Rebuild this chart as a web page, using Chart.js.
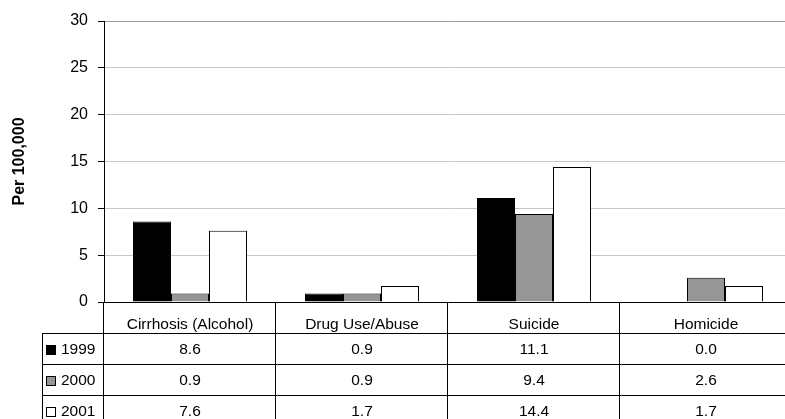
<!DOCTYPE html>
<html>
<head>
<meta charset="utf-8">
<script src="https://cdn.jsdelivr.net/npm/chart.js@4.4.1/dist/chart.umd.min.js"></script>
<style>
  html, body { margin: 0; padding: 0; background: #fff; overflow: hidden; }
  #wrap { width: 792px; height: 430px; }
</style>
</head>
<body>
<div id="wrap"><canvas id="c" width="792" height="430"></canvas></div>
<script>
const categories = ['Cirrhosis (Alcohol)', 'Drug Use/Abuse', 'Suicide', 'Homicide'];
const seriesNames = ['1999', '2000', '2001'];
const values1999 = [8.6, 0.9, 11.1, 0.0];
const values2000 = [0.9, 0.9, 9.4, 2.6];
const values2001 = [7.6, 1.7, 14.4, 1.7];
const yTicks = [0, 5, 10, 15, 20, 25, 30];
const yTitle = 'Per 100,000';

const fillColors = ['#000000', '#969696', '#ffffff'];
const allValues = [values1999, values2000, values2001];
const FONT = '"Liberation Sans", Arial, Helvetica, sans-serif';

const tablePlugin = {
  id: 'dataTable',
  afterDraw(chart) {
    const { ctx, chartArea, scales } = chart;
    const x = scales.x;
    const W = chart.width, H = chart.height;
    const rowH = 31;
    const top = Math.round(chartArea.bottom);
    const tableTop = top + rowH;
    const tableLeft = 42;
    const half = (x.getPixelForValue(1) - x.getPixelForValue(0)) / 2;
    ctx.save();
    ctx.strokeStyle = '#000';
    ctx.lineWidth = 1;
    ctx.beginPath();
    for (let k = 0; k < seriesNames.length; k++) {
      const y = tableTop + k * rowH + 0.5;
      ctx.moveTo(tableLeft, y); ctx.lineTo(W, y);
    }
    ctx.moveTo(tableLeft + 0.5, tableTop); ctx.lineTo(tableLeft + 0.5, H);
    ctx.moveTo(Math.round(chartArea.left) - 0.5, top); ctx.lineTo(Math.round(chartArea.left) - 0.5, H);
    for (let i = 0; i < categories.length; i++) {
      const xb = Math.round(x.getPixelForValue(i) + half) - 0.5;
      ctx.moveTo(xb, top); ctx.lineTo(xb, H);
    }
    ctx.stroke();

    ctx.font = '15.5px ' + FONT;
    ctx.fillStyle = '#000';
    ctx.textBaseline = 'middle';
    for (let s = 0; s < seriesNames.length; s++) {
      const yc = tableTop + s * rowH + rowH / 2 + 1;
      // legend key
      ctx.fillStyle = fillColors[s];
      ctx.fillRect(46.5, Math.round(yc - 5) + 0.5, 9, 9);
      ctx.strokeStyle = '#000';
      ctx.strokeRect(46.5, Math.round(yc - 5) + 0.5, 9, 9);
      ctx.fillStyle = '#000';
      ctx.textAlign = 'left';
      ctx.fillText(seriesNames[s], 61, yc);
      ctx.textAlign = 'center';
      for (let i = 0; i < categories.length; i++) {
        ctx.fillText(allValues[s][i].toFixed(1), x.getPixelForValue(i), yc);
      }
    }
    ctx.restore();
  }
};

new Chart(document.getElementById('c'), {
  type: 'bar',
  data: {
    labels: categories,
    datasets: seriesNames.map((n, s) => ({
      label: n,
      data: allValues[s],
      backgroundColor: fillColors[s],
      borderColor: '#000',
      borderWidth: 1,
      barPercentage: 1,
      categoryPercentage: 0.663
    }))
  },
  options: {
    responsive: false,
    animation: false,
    devicePixelRatio: 1,
    layout: { padding: { left: 0, right: 0, top: 21, bottom: 97 } },
    plugins: { legend: { display: false }, tooltip: { enabled: false } },
    scales: {
      x: {
        grid: { display: false },
        border: { display: true, color: '#000', width: 1 },
        ticks: { color: '#000', font: { family: FONT, size: 15.5 }, padding: 5, maxRotation: 0 },
        afterFit(scale) { scale.height = 31; }
      },
      y: {
        min: 0, max: 30,
        afterBuildTicks(scale) { scale.ticks = yTicks.map(v => ({ value: v })); },
        ticks: { color: '#000', font: { family: FONT, size: 16 }, padding: 10 },
        grid: {
          color: (c) => c.tick && c.tick.value === 30 ? '#a0a0a0' : '#c8c8c8',
          tickColor: '#000', tickLength: 6, lineWidth: 1
        },
        border: { display: true, color: '#000', width: 1 },
        title: { display: true, text: yTitle, color: '#000', font: { family: FONT, size: 16, weight: 'bold' }, padding: { top: 10, bottom: 0 } },
        afterFit(scale) { scale.width = 104; }
      }
    }
  },
  plugins: [tablePlugin]
});
</script>
</body>
</html>
